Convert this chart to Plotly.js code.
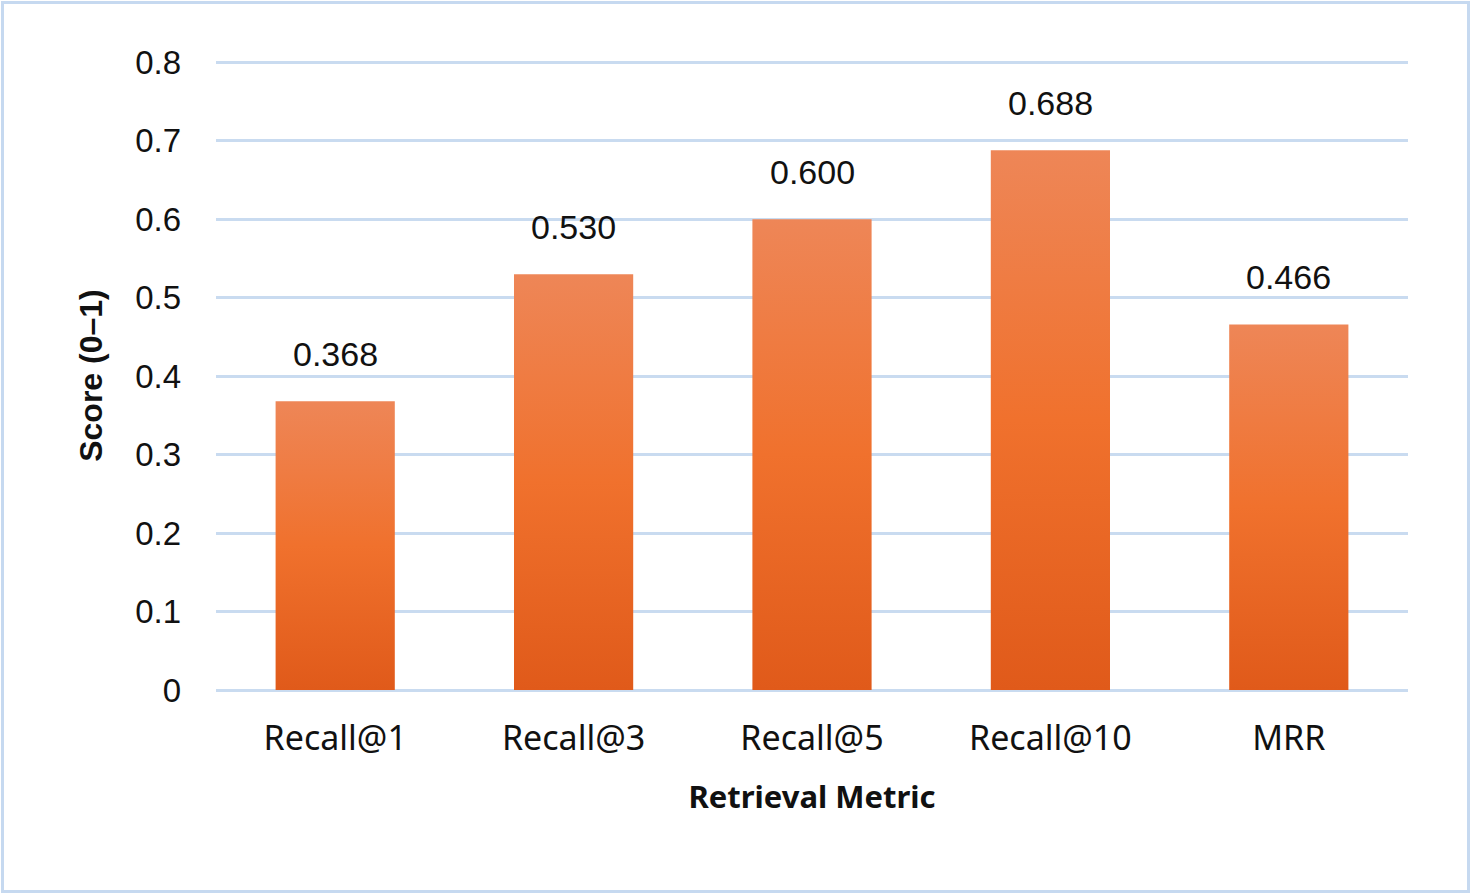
<!DOCTYPE html>
<html>
<head>
<meta charset="utf-8">
<script src="https://cdn.plot.ly/plotly-3.0.1.min.js"></script>
<style>
  html, body { margin: 0; padding: 0; background: #ffffff; }
  #wrap { position: relative; width: 1470px; height: 893px; }
  #chart { position: absolute; left: 0; top: 0; width: 1470px; height: 893px; }
  #frame { position: absolute; left: 1px; top: 1px; width: 1463px; height: 886px;
           border: 3px solid #C6D9F0; pointer-events: none; }
</style>
</head>
<body>
<div id="wrap">
  <div id="chart"></div>
  <div id="frame"></div>
</div>
<script>
// ---- data ----
const categories = ["Recall@1", "Recall@3", "Recall@5", "Recall@10", "MRR"];
const scores = [0.368, 0.530, 0.600, 0.688, 0.466];
const yTickValues = [0, 0.1, 0.2, 0.3, 0.4, 0.5, 0.6, 0.7, 0.8];
const yTickLabels = ["0", "0.1", "0.2", "0.3", "0.4", "0.5", "0.6", "0.7", "0.8"];
const xTitle = "Retrieval Metric";
const yTitle = "Score (0–1)";

const labelFont = "Liberation Sans, Arial, sans-serif";
const catFont = "Noto Sans, Open Sans, sans-serif";

const trace = {
  type: "bar",
  x: categories,
  y: scores,
  marker: { color: "#EC7335", line: { width: 0 } },
  hoverinfo: "skip"
};

const annotations = categories.map((c, i) => ({
  x: c,
  y: scores[i],
  xref: "x",
  yref: "y",
  text: scores[i].toFixed(3),
  showarrow: false,
  yanchor: "middle",
  yshift: 47,
  font: { family: labelFont, size: 34, color: "#111111" }
}));

const layout = {
  width: 1470,
  height: 893,
  margin: { l: 216, r: 62, t: 61, b: 203 },
  paper_bgcolor: "#ffffff",
  plot_bgcolor: "#ffffff",
  showlegend: false,
  bargap: 0.5,
  xaxis: {
    type: "category",
    showgrid: false,
    showline: false,
    zeroline: false,
    ticks: "",
    ticklabelstandoff: 25,
    tickfont: { family: catFont, size: 34, color: "#111111" },
    title: { text: xTitle, standoff: 27,
             font: { family: catFont, size: 31, color: "#111111", weight: "bold" } },
    automargin: false
  },
  yaxis: {
    range: [0, 0.8018],
    tickvals: yTickValues,
    ticktext: yTickLabels,
    showgrid: true,
    gridcolor: "#C9DBF0",
    gridwidth: 3,
    zeroline: true,
    zerolinecolor: "#C9DBF0",
    zerolinewidth: 3,
    showline: false,
    ticks: "",
    ticklabelstandoff: 34,
    tickfont: { family: labelFont, size: 33, color: "#111111" },
    title: { text: yTitle, standoff: 22,
             font: { family: labelFont, size: 32, color: "#111111", weight: "bold" } },
    automargin: false
  },
  annotations: annotations
};

function applyGradient() {
  const gd = document.getElementById("chart");
  const svg = gd.querySelector("svg.main-svg");
  if (!svg) return;
  let defs = svg.querySelector("defs");
  if (!defs) {
    defs = document.createElementNS("http://www.w3.org/2000/svg", "defs");
    svg.insertBefore(defs, svg.firstChild);
  }
  if (!svg.querySelector("#barGrad")) {
    const g = document.createElementNS("http://www.w3.org/2000/svg", "linearGradient");
    g.setAttribute("id", "barGrad");
    g.setAttribute("x1", "0"); g.setAttribute("y1", "0");
    g.setAttribute("x2", "0"); g.setAttribute("y2", "1");
    const stops = [["0", "#EE8657"], ["0.5", "#F0712D"], ["1", "#E05A1A"]];
    stops.forEach(s => {
      const st = document.createElementNS("http://www.w3.org/2000/svg", "stop");
      st.setAttribute("offset", s[0]);
      st.setAttribute("stop-color", s[1]);
      g.appendChild(st);
    });
    defs.appendChild(g);
  }
  gd.querySelectorAll(".barlayer .point path").forEach(p => {
    p.style.fill = "url(#barGrad)";
  });
}

Plotly.newPlot("chart", [trace], layout, { displayModeBar: false, staticPlot: true })
  .then(applyGradient);
</script>
</body>
</html>
